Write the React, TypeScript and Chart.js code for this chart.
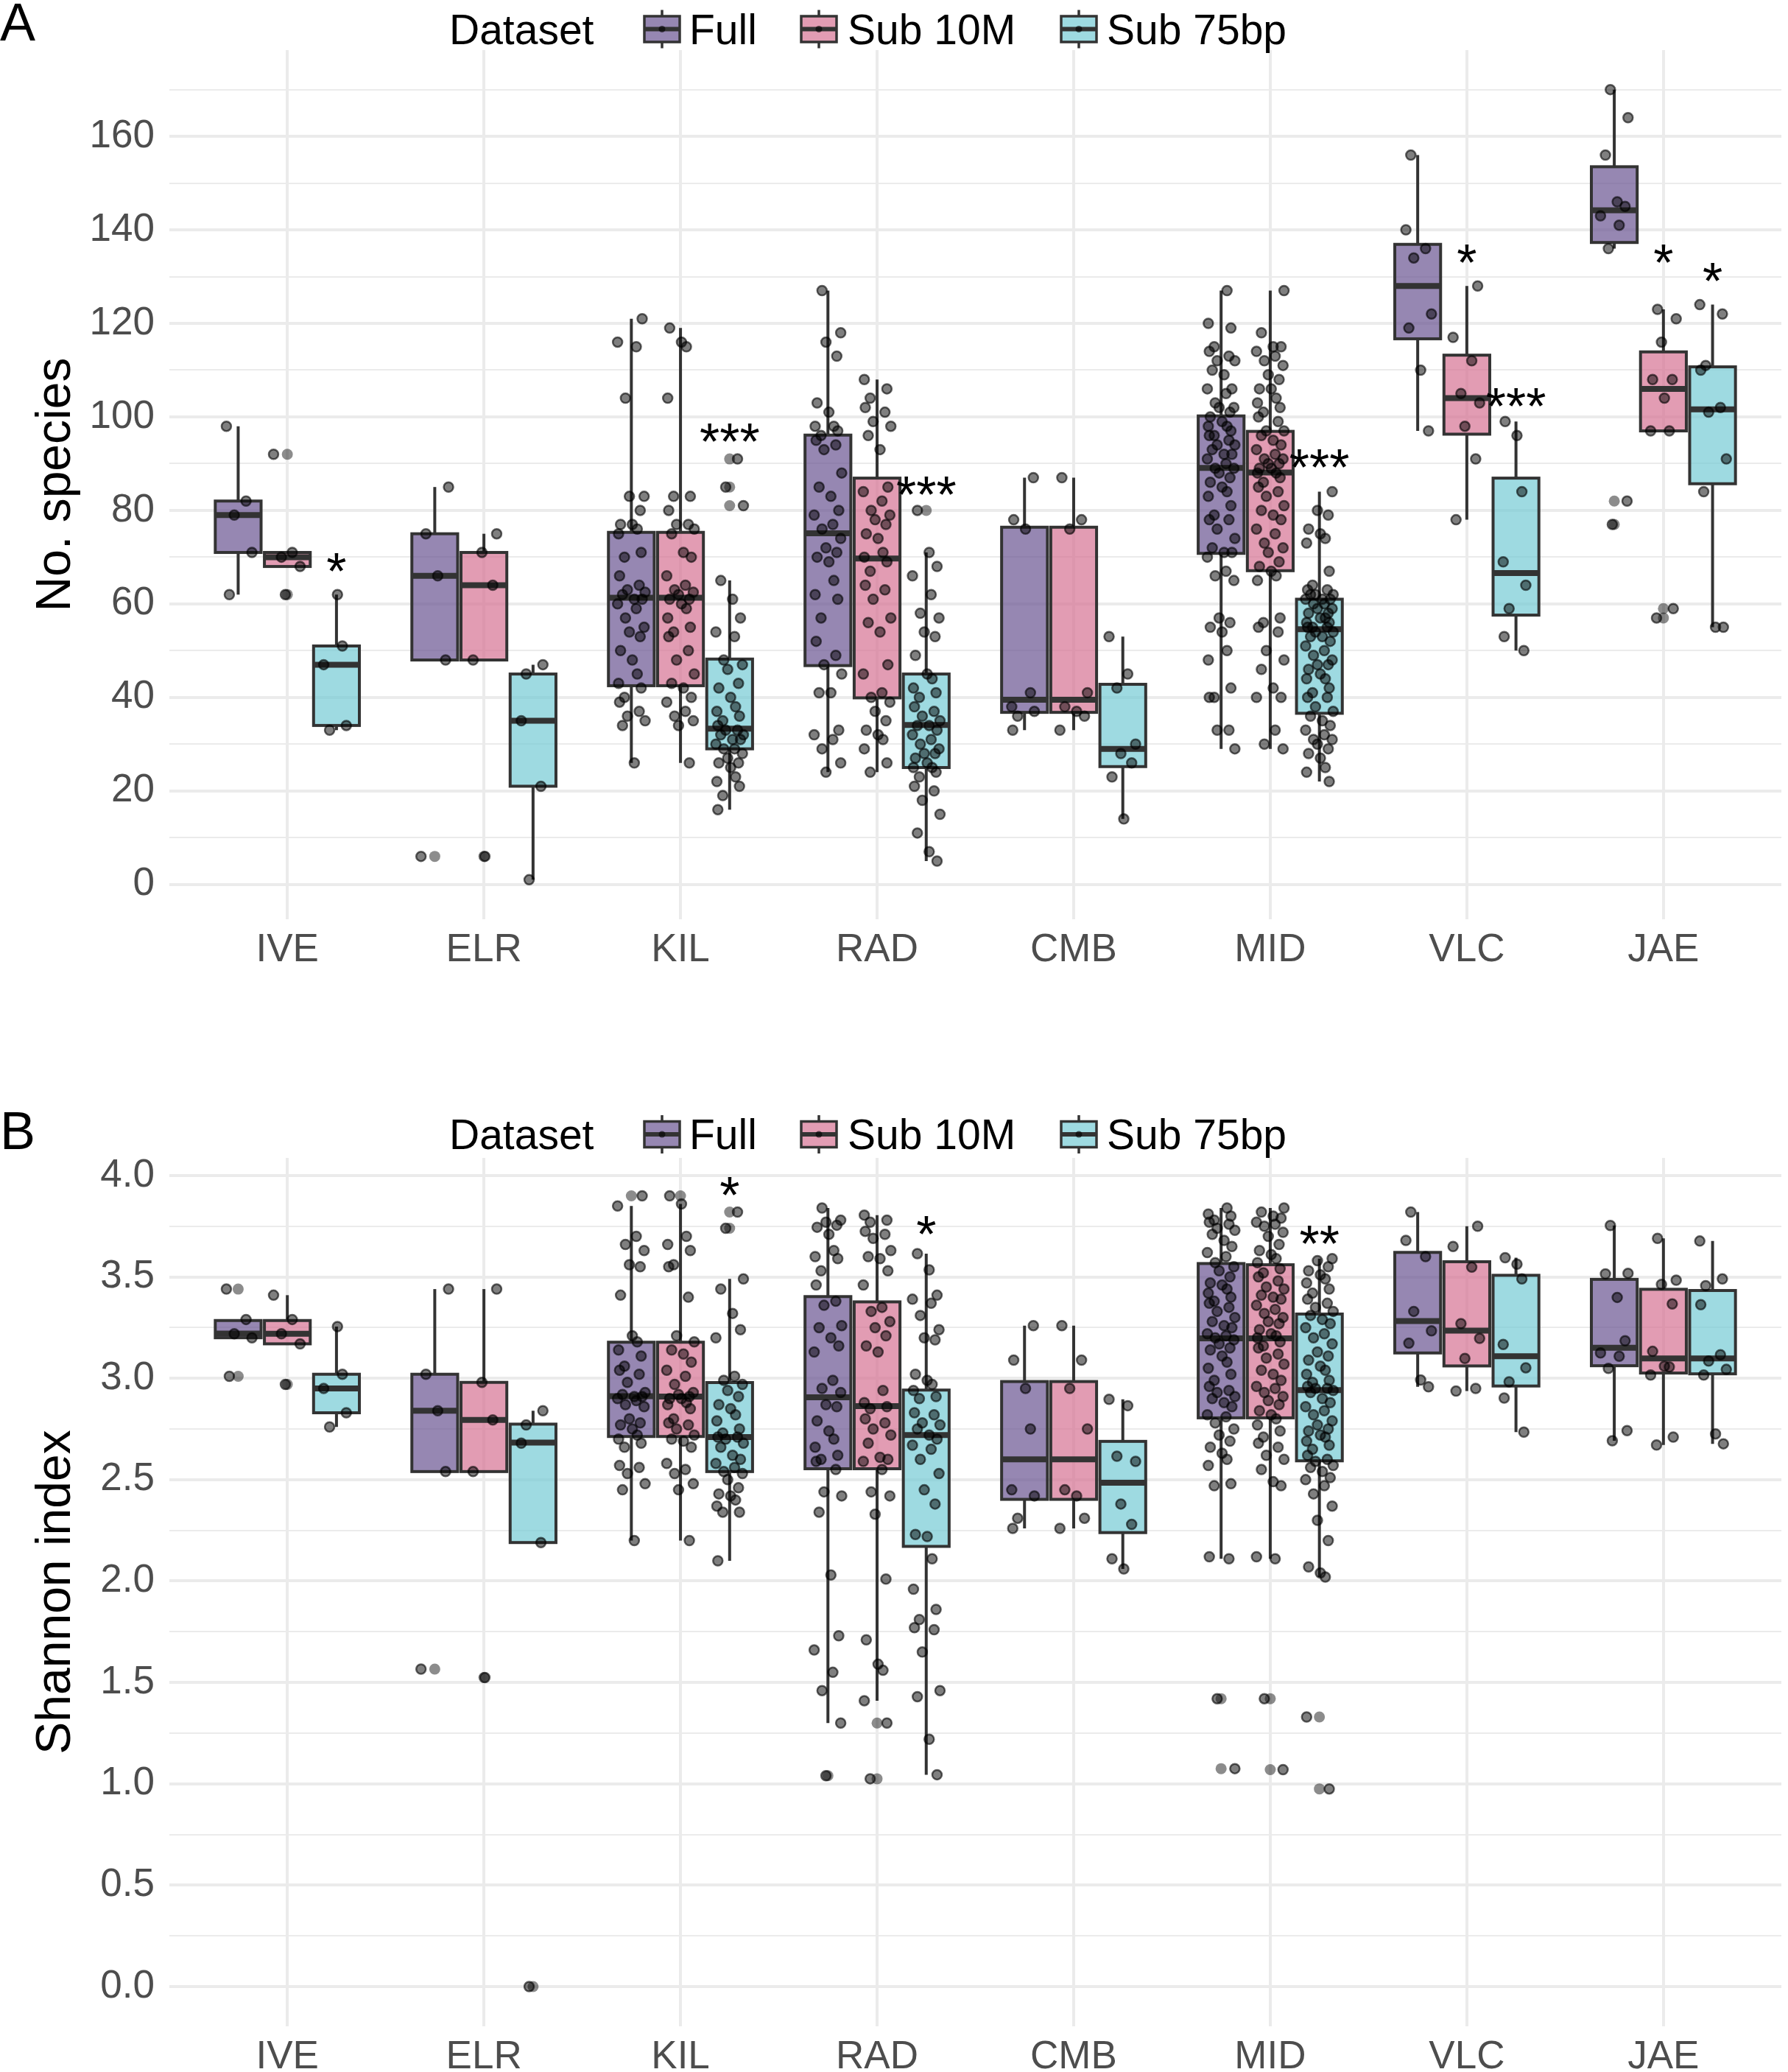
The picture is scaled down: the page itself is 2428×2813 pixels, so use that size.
import React, { useEffect, useRef } from 'react';
import { Chart, registerables } from 'chart.js';

Chart.register(...registerables);

const FONT = '"Liberation Sans", Arial, Helvetica, sans-serif';
const PAGE_W = 2428;

// ---------------- categories / series ----------------
const SITES = ['IVE', 'ELR', 'KIL', 'RAD', 'CMB', 'MID', 'VLC', 'JAE'];
const GROUP_LABELS = ['Full', 'Sub 10M', 'Sub 75bp'];

// ---------------- Panel A: No. species ----------------
const A_FULL = [
  [98, 82, 79, 71, 62],
  [85, 75, 66, 48, 6],
  [121, 116, 115, 104, 83, 83, 80, 77, 77, 76, 75, 71, 70, 66, 64, 63, 62.5, 62, 61, 61, 60, 59, 57, 55, 54, 53, 50, 48, 45, 43, 42, 40, 39, 37, 36, 35, 34, 26],
  [127, 118, 116, 113, 103, 101, 98, 98, 97, 96, 95, 94, 93, 88, 85, 83, 80, 79, 77, 76, 74, 72, 71, 70, 69, 65, 62, 61, 57, 52, 49, 47, 45, 41, 41, 33, 32, 31, 29, 26, 24],
  [87, 78, 76, 41, 38, 37, 36, 33],
  [127, 120, 119, 115, 114, 113, 112, 112, 110, 109, 106, 106, 105, 103, 102, 102, 101, 100, 99, 98, 98, 97, 96, 96, 95, 94, 94, 93, 92, 92, 91, 90, 89, 89, 88, 87, 86, 85, 84, 83, 81, 79, 78, 78, 76, 74, 72, 71, 71, 70, 67, 66, 65, 57, 56, 55, 54, 50, 48, 42, 40, 40, 33, 33, 29],
  [156, 140, 136, 134, 122, 119, 110, 97],
  [170, 164, 156, 146, 145, 143, 141, 136, 82, 77],
];
const A_SUB10M = [
  [92, 71, 70, 68, 62],
  [75, 71, 64, 48, 6],
  [119, 116, 115, 104, 83, 83, 80, 77, 77, 76, 75, 71, 70, 66, 64, 63, 62.5, 62, 61, 61, 60, 59, 57, 55, 54, 53, 50, 48, 45, 43, 42, 40, 39, 37, 36, 35, 34, 26],
  [108, 106, 104, 102, 101, 99, 98, 96, 93, 85, 84, 82, 80, 79, 78, 77, 75, 74, 71, 70, 69, 67, 64, 63, 61, 57, 56, 54, 47, 45, 41, 40, 39, 37, 35, 33, 32, 31, 29, 26, 24],
  [87, 78, 76, 41, 38, 37, 36, 33],
  [127, 118, 115, 115, 114, 113, 112, 111, 109, 108, 106, 106, 104, 103, 102, 101, 100, 99, 97, 97, 96, 95, 94, 93, 92, 91, 91, 90, 90, 89, 89, 88, 88, 87, 86, 85, 84, 83, 81, 80, 79, 78, 76, 75, 73, 72, 71, 69, 68, 67, 66, 65, 57, 56, 55, 54, 50, 48, 46, 42, 40, 40, 33, 30, 29],
  [128, 117, 112, 105, 103, 98, 91, 78],
  [123, 121, 116, 108, 108, 104, 97, 97, 59, 57],
];
const A_SUB75 = [
  [62, 51, 47, 34, 33],
  [47, 45, 35, 21, 1],
  [91, 85, 81, 65, 61, 57, 54, 53, 48, 47, 46, 43, 42, 40, 38, 37, 36, 35, 34, 33, 33, 32, 32, 31, 31, 30, 29, 29, 28, 27, 26, 26, 25, 23, 22, 21, 19, 16],
  [80, 71, 68, 66, 62, 58, 57, 54, 53, 49, 45, 44, 42, 41, 40, 38, 37, 36, 35, 34, 34, 33, 32, 31, 30, 29, 28, 28, 27, 26, 25, 25, 24, 23, 21, 20, 18, 15, 11, 7, 5],
  [53, 45, 42, 30, 28, 26, 23, 14],
  [84, 80, 79, 76, 75, 74, 73, 67, 64, 63, 63, 62, 62, 62, 61, 61, 61, 60, 60, 59, 59, 58, 58, 57, 57, 56, 56, 55, 55, 55, 54, 54, 53, 53, 52, 51, 50, 49, 48, 47, 47, 46, 45, 44, 44, 42, 41, 40, 40, 38, 37, 36, 35, 34, 33, 32, 31, 31, 30, 29, 28, 27, 25, 24, 22],
  [99, 96, 84, 69, 64, 59, 53, 50],
  [124, 122, 111, 110, 102, 101, 91, 84, 55, 55],
];
// quartiles per site: [Q1, median, Q3]
const A_FULL_Q = [[71, 79, 82], [48, 66, 75], [42.5, 61.3, 75.3], [46.8, 75.1, 96.1], [36.8, 39.5, 76.4], [70.8, 89.1, 100.2], [116.7, 128, 136.9], [137.3, 144.2, 153.5]];
const A_SUB10M_Q = [[68, 70, 71], [48, 64, 71], [42.5, 61.3, 75.3], [39.9, 69.7, 86.9], [36.8, 39.5, 76.4], [67.1, 88.1, 96.9], [96.3, 104, 113.2], [97, 106, 113.9]];
const A_SUB75_Q = [[34, 47, 51], [21, 35, 45], [29, 33.3, 48.2], [25, 34.1, 45], [25.2, 29, 42.8], [36.6, 54.6, 61], [57.6, 66.6, 86.9], [85.7, 101.6, 110.7]];
const A_MAJOR_TICKS = [0, 20, 40, 60, 80, 100, 120, 140, 160];
const A_MINOR_TICKS = [10, 30, 50, 70, 90, 110, 130, 150, 170];
// significance labels: [site index, group index, y, text]
const A_SIG = [[0, 2, 67.6, '*'], [2, 2, 95.3, '***'], [3, 2, 83.9, '***'], [5, 2, 89.8, '***'], [6, 1, 133.5, '*'], [6, 2, 102.8, '***'], [7, 1, 133.5, '*'], [7, 2, 129.6, '*']];

// ---------------- Panel B: Shannon index ----------------
const B_FULL = [
  [3.44, 3.29, 3.22, 3.2, 3.01],
  [3.44, 3.02, 2.84, 2.54, 1.566],
  [3.9, 3.85, 3.7, 3.66, 3.63, 3.56, 3.55, 3.41, 3.21, 3.18, 3.14, 3.11, 3.06, 3.04, 3.02, 2.98, 2.93, 2.92, 2.91, 2.91, 2.9, 2.89, 2.87, 2.86, 2.8, 2.78, 2.77, 2.75, 2.72, 2.7, 2.68, 2.66, 2.57, 2.56, 2.53, 2.48, 2.45, 2.2],
  [3.84, 3.78, 3.77, 3.755, 3.745, 3.71, 3.63, 3.6, 3.59, 3.53, 3.46, 3.38, 3.36, 3.26, 3.25, 3.2, 3.16, 3.13, 2.99, 2.95, 2.93, 2.87, 2.86, 2.79, 2.74, 2.7, 2.66, 2.62, 2.6, 2.59, 2.55, 2.44, 2.42, 2.34, 2.03, 1.73, 1.66, 1.55, 1.46, 1.3, 1.04],
  [3.26, 3.09, 2.95, 2.75, 2.45, 2.42, 2.31, 2.26],
  [3.84, 3.81, 3.8, 3.78, 3.77, 3.76, 3.74, 3.73, 3.71, 3.68, 3.65, 3.62, 3.6, 3.57, 3.55, 3.53, 3.5, 3.47, 3.46, 3.44, 3.42, 3.4, 3.38, 3.37, 3.35, 3.33, 3.3, 3.28, 3.26, 3.25, 3.22, 3.21, 3.2, 3.19, 3.17, 3.15, 3.14, 3.11, 3.08, 3.05, 3.02, 2.99, 2.96, 2.94, 2.93, 2.91, 2.9, 2.88, 2.86, 2.82, 2.81, 2.78, 2.75, 2.72, 2.69, 2.66, 2.63, 2.6, 2.57, 2.48, 2.47, 2.12, 2.11, 1.42, 1.075],
  [3.82, 3.68, 3.6, 3.33, 3.234, 3.173, 2.992, 2.958],
  [3.754, 3.518, 3.515, 3.399, 3.185, 3.125, 3.109, 3.049, 2.742, 2.692],
];
const B_SUB10M = [
  [3.41, 3.29, 3.22, 3.17, 2.97],
  [3.44, 2.98, 2.795, 2.54, 1.524],
  [3.9, 3.86, 3.7, 3.66, 3.63, 3.56, 3.55, 3.4, 3.21, 3.18, 3.14, 3.12, 3.08, 3.04, 3.01, 2.97, 2.93, 2.92, 2.91, 2.9, 2.9, 2.88, 2.87, 2.85, 2.8, 2.78, 2.77, 2.75, 2.72, 2.7, 2.69, 2.66, 2.58, 2.55, 2.53, 2.48, 2.45, 2.2],
  [3.805, 3.78, 3.77, 3.725, 3.71, 3.69, 3.63, 3.6, 3.59, 3.53, 3.46, 3.35, 3.33, 3.28, 3.25, 3.21, 3.16, 3.13, 2.94, 2.88, 2.86, 2.85, 2.8, 2.78, 2.75, 2.72, 2.68, 2.61, 2.6, 2.59, 2.55, 2.44, 2.42, 2.33, 2.01, 1.71, 1.59, 1.56, 1.41, 1.3, 1.025],
  [3.26, 3.09, 2.95, 2.75, 2.45, 2.42, 2.31, 2.26],
  [3.84, 3.82, 3.8, 3.79, 3.77, 3.76, 3.75, 3.72, 3.7, 3.66, 3.63, 3.61, 3.59, 3.57, 3.54, 3.52, 3.5, 3.48, 3.45, 3.44, 3.41, 3.4, 3.39, 3.36, 3.34, 3.32, 3.3, 3.28, 3.27, 3.24, 3.22, 3.21, 3.2, 3.18, 3.16, 3.15, 3.12, 3.1, 3.07, 3.04, 3.02, 2.99, 2.96, 2.95, 2.93, 2.91, 2.89, 2.87, 2.84, 2.82, 2.8, 2.77, 2.74, 2.71, 2.68, 2.66, 2.62, 2.6, 2.55, 2.49, 2.47, 2.12, 2.11, 1.42, 1.07],
  [3.75, 3.65, 3.548, 3.27, 3.197, 3.098, 2.95, 2.937],
  [3.69, 3.484, 3.463, 3.367, 3.133, 3.06, 3.056, 3.016, 2.71, 2.671],
];
const B_SUB75 = [
  [3.255, 3.02, 2.95, 2.83, 2.76],
  [2.84, 2.77, 2.68, 2.19, 0.0],
  [3.82, 3.74, 3.49, 3.44, 3.32, 3.24, 3.2, 3.01, 2.99, 2.97, 2.94, 2.91, 2.87, 2.85, 2.82, 2.79, 2.75, 2.73, 2.71, 2.71, 2.7, 2.68, 2.66, 2.62, 2.6, 2.58, 2.56, 2.54, 2.53, 2.5, 2.46, 2.43, 2.42, 2.4, 2.37, 2.34, 2.34, 2.1],
  [3.615, 3.535, 3.41, 3.39, 3.37, 3.31, 3.24, 3.2, 3.19, 3.02, 2.99, 2.97, 2.94, 2.91, 2.9, 2.83, 2.82, 2.78, 2.77, 2.75, 2.72, 2.7, 2.67, 2.65, 2.6, 2.53, 2.45, 2.38, 2.23, 2.22, 2.11, 1.96, 1.86, 1.81, 1.77, 1.76, 1.65, 1.46, 1.43, 1.22, 1.045],
  [2.896, 2.865, 2.616, 2.59, 2.38, 2.28, 2.11, 2.06],
  [3.59, 3.58, 3.55, 3.53, 3.51, 3.49, 3.47, 3.44, 3.42, 3.39, 3.37, 3.35, 3.33, 3.31, 3.29, 3.27, 3.25, 3.22, 3.2, 3.17, 3.13, 3.11, 3.09, 3.06, 3.04, 3.02, 2.99, 2.98, 2.96, 2.95, 2.95, 2.94, 2.93, 2.9, 2.88, 2.86, 2.84, 2.82, 2.79, 2.77, 2.75, 2.74, 2.72, 2.71, 2.69, 2.67, 2.65, 2.62, 2.6, 2.59, 2.57, 2.56, 2.54, 2.51, 2.5, 2.47, 2.43, 2.37, 2.3, 2.2, 2.07, 2.04, 2.02, 1.33, 0.975],
  [3.595, 3.563, 3.49, 3.167, 3.052, 2.983, 2.903, 2.735],
  [3.677, 3.49, 3.457, 3.363, 3.116, 3.085, 3.044, 3.016, 2.726, 2.677],
];
const B_FULL_Q = [[3.2, 3.221, 3.285], [2.54, 2.84, 3.02], [2.713, 2.912, 3.178], [2.554, 2.906, 3.403], [2.403, 2.6, 2.984], [2.805, 3.197, 3.566], [3.125, 3.282, 3.621], [3.062, 3.151, 3.488]];
const B_SUB10M_Q = [[3.17, 3.22, 3.285], [2.54, 2.795, 2.98], [2.713, 2.91, 3.178], [2.554, 2.863, 3.377], [2.403, 2.6, 2.984], [2.805, 3.197, 3.56], [3.061, 3.235, 3.575], [3.026, 3.098, 3.439]];
const B_SUB75_Q = [[2.83, 2.95, 3.02], [2.19, 2.683, 2.774], [2.54, 2.71, 2.979], [2.171, 2.72, 2.942], [2.239, 2.485, 2.689], [2.593, 2.942, 3.317], [2.962, 3.109, 3.508], [3.022, 3.098, 3.433]];
const B_MAJOR_TICKS = [0, 0.5, 1, 1.5, 2, 2.5, 3, 3.5, 4];
const B_MINOR_TICKS = [0.25, 0.75, 1.25, 1.75, 2.25, 2.75, 3.25, 3.75];
const B_SIG = [[2, 2, 3.916, '*'], [3, 2, 3.725, '*'], [5, 2, 3.676, '**']];

// ---------------- styles ----------------
const FILLS = ['rgba(106,84,146,0.7)', 'rgba(214,114,147,0.7)', 'rgba(117,203,212,0.7)'];
const DODGE = [-0.25, 0, 0.25];
const BOX_W = 0.233;
const JITTER = [-0.06, 0.04, -0.02, 0.07, -0.045, 0.015, 0.055, -0.07, 0.025, -0.03, 0.065, -0.01, 0.045, -0.055, 0.005, 0.03, -0.065, 0.05, -0.035];
const LINE = '#333333';

function whiskerStats(values, q1, q3) {
  const iqr = q3 - q1;
  const lf = q1 - 1.5 * iqr;
  const uf = q3 + 1.5 * iqr;
  const inside = values.filter((v) => v >= lf && v <= uf);
  return {
    lo: Math.min(q1, ...inside),
    hi: Math.max(q3, ...inside),
    out: values.filter((v) => v < lf || v > uf),
  };
}

const PANEL_A = {
  tag: 'A',
  height: 1420,
  top: 68,
  xAxisH: 172,
  yMin: -7.45,
  yMax: 178.45,
  major: A_MAJOR_TICKS,
  minor: A_MINOR_TICKS,
  fmt: (v) => String(v),
  title: 'No. species',
  groups: [A_FULL, A_SUB10M, A_SUB75],
  quarts: [A_FULL_Q, A_SUB10M_Q, A_SUB75_Q],
  sig: A_SIG,
  legendY: 39.5,
  tagY: 55,
};
const PANEL_B = {
  tag: 'B',
  height: 1393,
  top: 152,
  xAxisH: 62,
  yMin: -0.196,
  yMax: 4.087,
  major: B_MAJOR_TICKS,
  minor: B_MINOR_TICKS,
  fmt: (v) => Number(v).toFixed(1),
  title: 'Shannon index',
  groups: [B_FULL, B_SUB10M, B_SUB75],
  quarts: [B_FULL_Q, B_SUB10M_Q, B_SUB75_Q],
  sig: B_SIG,
  legendY: 120,
  tagY: 140,
};

const LEGEND = { titleX: 610, keyX: [875, 1088, 1441], labelX: [936, 1151, 1503], keyW: 48, keyH: 35, whiskH: 52 };

function isMajor(cfg, v) {
  return cfg.major.some((m) => Math.abs(m - v) < 1e-9);
}

function Panel({ cfg }) {
  const ref = useRef(null);
  useEffect(() => {
    const pointSets = cfg.groups.map((grp, g) => {
      const pts = [];
      grp.forEach((vals, s) => {
        vals.forEach((v, i) => {
          pts.push({ x: s + 1 + DODGE[g] + JITTER[(i + s * 3 + g * 7) % JITTER.length], y: v });
        });
      });
      return pts;
    });
    const outliers = [];
    cfg.groups.forEach((grp, g) => {
      grp.forEach((vals, s) => {
        const [q1, , q3] = cfg.quarts[g][s];
        whiskerStats(vals, q1, q3).out.forEach((v) => outliers.push({ x: s + 1 + DODGE[g], y: v }));
      });
    });

    const boxPlugin = {
      id: 'boxplots',
      beforeDatasetsDraw(chart) {
        const { ctx } = chart;
        const x = chart.scales.x;
        const y = chart.scales.y;
        ctx.save();
        cfg.groups.forEach((grp, g) => {
          grp.forEach((vals, s) => {
            const [q1, med, q3] = cfg.quarts[g][s];
            const { lo, hi } = whiskerStats(vals, q1, q3);
            const cx = s + 1 + DODGE[g];
            const xl = x.getPixelForValue(cx - BOX_W / 2);
            const xr = x.getPixelForValue(cx + BOX_W / 2);
            const xc = x.getPixelForValue(cx);
            const yt = y.getPixelForValue(q3);
            const yb = y.getPixelForValue(q1);
            ctx.strokeStyle = LINE;
            ctx.lineCap = 'butt';
            ctx.lineWidth = 4;
            ctx.beginPath();
            ctx.moveTo(xc, yt);
            ctx.lineTo(xc, y.getPixelForValue(hi));
            ctx.moveTo(xc, yb);
            ctx.lineTo(xc, y.getPixelForValue(lo));
            ctx.stroke();
            ctx.fillStyle = FILLS[g];
            ctx.fillRect(xl, yt, xr - xl, yb - yt);
            ctx.lineJoin = 'miter';
            ctx.strokeRect(xl, yt, xr - xl, yb - yt);
            const ym = y.getPixelForValue(med);
            ctx.lineWidth = 8;
            ctx.beginPath();
            ctx.moveTo(xl, ym);
            ctx.lineTo(xr, ym);
            ctx.stroke();
          });
        });
        ctx.restore();
      },
      afterDatasetsDraw(chart) {
        const { ctx } = chart;
        const x = chart.scales.x;
        const y = chart.scales.y;
        ctx.save();
        ctx.fillStyle = '#000';
        ctx.font = `70px ${FONT}`;
        ctx.textAlign = 'center';
        ctx.textBaseline = 'alphabetic';
        cfg.sig.forEach(([s, g, v, label]) => {
          ctx.fillText(label, x.getPixelForValue(s + 1 + DODGE[g]), y.getPixelForValue(v) + 0.4 * 70);
        });
        ctx.restore();
      },
      afterDraw(chart) {
        const { ctx } = chart;
        ctx.save();
        // panel tag
        ctx.fillStyle = '#000';
        ctx.textAlign = 'left';
        ctx.textBaseline = 'alphabetic';
        ctx.font = `72px ${FONT}`;
        ctx.fillText(cfg.tag, 0, cfg.tagY);
        // legend
        const cy = cfg.legendY;
        ctx.font = `57px ${FONT}`;
        ctx.fillText('Dataset', LEGEND.titleX, cy + 20);
        GROUP_LABELS.forEach((lab, g) => {
          const kx = LEGEND.keyX[g];
          const kc = kx + LEGEND.keyW / 2;
          ctx.strokeStyle = LINE;
          ctx.lineWidth = 3.5;
          ctx.beginPath();
          ctx.moveTo(kc, cy - LEGEND.whiskH / 2);
          ctx.lineTo(kc, cy + LEGEND.whiskH / 2);
          ctx.stroke();
          ctx.fillStyle = '#ffffff';
          ctx.fillRect(kx, cy - LEGEND.keyH / 2, LEGEND.keyW, LEGEND.keyH);
          ctx.fillStyle = FILLS[g];
          ctx.fillRect(kx, cy - LEGEND.keyH / 2, LEGEND.keyW, LEGEND.keyH);
          ctx.strokeRect(kx, cy - LEGEND.keyH / 2, LEGEND.keyW, LEGEND.keyH);
          ctx.lineWidth = 6;
          ctx.beginPath();
          ctx.moveTo(kx, cy);
          ctx.lineTo(kx + LEGEND.keyW, cy);
          ctx.stroke();
          ctx.fillStyle = 'rgba(0,0,0,0.6)';
          ctx.beginPath();
          ctx.arc(kc, cy, 4.5, 0, Math.PI * 2);
          ctx.fill();
          ctx.fillStyle = '#000';
          ctx.fillText(lab, LEGEND.labelX[g], cy + 20);
        });
        ctx.restore();
      },
    };

    const allTicks = [...cfg.major, ...cfg.minor].sort((a, b) => a - b);

    const chart = new Chart(ref.current, {
      type: 'scatter',
      data: {
        datasets: [
          ...pointSets.map((pts, g) => ({
            label: GROUP_LABELS[g],
            data: pts,
            pointRadius: 6.5,
            pointBackgroundColor: 'rgba(0,0,0,0.5)',
            pointBorderColor: 'rgba(0,0,0,0.6)',
            pointBorderWidth: 2.5,
            pointHoverRadius: 6.5,
            order: 1,
          })),
          {
            label: 'outliers',
            data: outliers,
            pointRadius: 7.5,
            pointBackgroundColor: 'rgba(0,0,0,0.45)',
            pointBorderWidth: 0,
            pointHoverRadius: 7.5,
            order: 2,
          },
        ],
      },
      options: {
        responsive: false,
        animation: false,
        devicePixelRatio: 1,
        events: [],
        layout: { padding: { top: cfg.top, right: 0, left: 0, bottom: 0 } },
        plugins: { legend: { display: false }, tooltip: { enabled: false } },
        scales: {
          x: {
            type: 'linear',
            min: 0.4,
            max: 8.6,
            afterBuildTicks: (s) => {
              s.ticks = SITES.map((_, i) => ({ value: i + 1 }));
            },
            afterFit: (s) => {
              s.height = cfg.xAxisH;
            },
            grid: { color: '#EBEBEB', lineWidth: 4, drawTicks: false },
            border: { display: false },
            ticks: {
              autoSkip: false,
              maxRotation: 0,
              padding: 11,
              color: '#4D4D4D',
              font: { family: FONT, size: 53 },
              callback: (v) => SITES[Math.round(v) - 1] ?? '',
            },
          },
          y: {
            type: 'linear',
            min: cfg.yMin,
            max: cfg.yMax,
            afterBuildTicks: (s) => {
              s.ticks = allTicks.map((v) => ({ value: v }));
            },
            afterFit: (s) => {
              s.width = 230;
            },
            grid: {
              color: '#EBEBEB',
              lineWidth: (c) => (c.tick && isMajor(cfg, c.tick.value) ? 4 : 2),
              drawTicks: false,
            },
            border: { display: false },
            ticks: {
              autoSkip: false,
              padding: 20,
              color: '#4D4D4D',
              font: { family: FONT, size: 53 },
              callback: (v) => (isMajor(cfg, v) ? cfg.fmt(v) : ''),
            },
            title: {
              display: true,
              text: cfg.title,
              color: '#000',
              font: { family: FONT, size: 66 },
              padding: { top: 37, bottom: 0 },
            },
          },
        },
      },
      plugins: [boxPlugin],
    });
    return () => chart.destroy();
  }, [cfg]);

  return (
    <canvas
      ref={ref}
      width={PAGE_W}
      height={cfg.height}
      style={{ display: 'block', width: PAGE_W + 'px', height: cfg.height + 'px' }}
    />
  );
}

export default function App() {
  useEffect(() => {
    document.body.style.margin = '0';
    document.body.style.overflow = 'hidden';
  }, []);
  return (
    <div style={{ width: PAGE_W, background: '#ffffff' }}>
      <style>{'body{margin:0;overflow:hidden;background:#fff}'}</style>
      <Panel cfg={PANEL_A} />
      <Panel cfg={PANEL_B} />
    </div>
  );
}
